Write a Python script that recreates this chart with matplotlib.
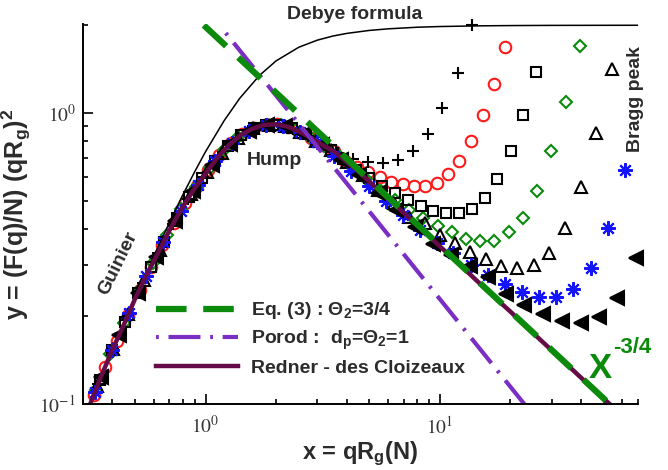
import numpy as np
import matplotlib
matplotlib.use('Agg')
import matplotlib.pyplot as plt
import matplotlib.ticker as ticker
from matplotlib.font_manager import FontProperties

# data (x = qRg, y = (F(q)/N)(qRg)^2)
plus_x = [0.347, 0.402, 0.466, 0.540, 0.626, 0.726, 0.841, 0.974, 1.129, 1.308, 1.516, 1.757, 2.035,
          2.359, 2.733, 3.17, 3.67, 4.25, 4.93, 5.71, 6.62, 7.67, 8.89, 10.2, 11.9, 13.7]
plus_y = [0.117, 0.155, 0.202, 0.261, 0.329, 0.415, 0.507, 0.601, 0.705, 0.796, 0.866, 0.907, 0.911,
          0.881, 0.832, 0.774, 0.73, 0.693, 0.677, 0.672, 0.688, 0.739, 0.845, 1.038, 1.369, 2.00]

circle_x = [0.334, 0.373, 0.417, 0.467, 0.523, 0.584, 0.654, 0.732, 0.819, 0.916, 1.025, 1.146, 1.282,
            1.435, 1.605, 1.796, 2.009, 2.247, 2.514, 2.812, 3.146, 3.521, 3.938, 4.406, 4.93, 5.55,
            6.18, 6.95, 7.75, 8.63, 9.71, 10.8, 12.05, 13.56, 15.26, 17.0, 18.94]
circle_y = [0.107, 0.134, 0.165, 0.202, 0.247, 0.296, 0.353, 0.420, 0.490, 0.561, 0.635, 0.715, 0.786,
            0.845, 0.885, 0.909, 0.914, 0.897, 0.862, 0.822, 0.777, 0.738, 0.684, 0.652, 0.626, 0.601,
            0.578, 0.569, 0.560, 0.560, 0.573, 0.616, 0.682, 0.799, 0.982, 1.255, 1.68]

square_x = [0.353, 0.400, 0.454, 0.515, 0.584, 0.663, 0.752, 0.853, 0.968, 1.098, 1.245, 1.413, 1.603,
            1.818, 2.063, 2.339, 2.654, 3.010, 3.415, 3.874, 4.395, 4.985, 5.65, 6.43, 7.30, 8.30,
            9.33, 10.6, 12.05, 13.7, 15.6, 17.5, 20.1, 22.6, 25.7]
square_y = [0.1205, 0.153, 0.192, 0.241, 0.296, 0.360, 0.437, 0.516, 0.597, 0.685, 0.769, 0.839, 0.885,
            0.910, 0.910, 0.884, 0.843, 0.794, 0.748, 0.692, 0.637, 0.596, 0.560, 0.530, 0.501, 0.478,
            0.459, 0.452, 0.452, 0.467, 0.509, 0.592, 0.739, 0.982, 1.38]

diamond_x = [0.341, 0.392, 0.451, 0.519, 0.596, 0.686, 0.789, 0.907, 1.044, 1.200, 1.380, 1.587, 1.826,
             2.100, 2.415, 2.777, 3.194, 3.674, 4.225, 4.860, 5.588, 6.43, 7.37, 8.46, 9.80, 11.25,
             12.9, 14.8, 17.0, 19.7, 22.6, 25.9, 29.8, 34.5, 39.6]
diamond_y = [0.112, 0.148, 0.190, 0.244, 0.305, 0.381, 0.467, 0.556, 0.648, 0.744, 0.826, 0.883, 0.910,
             0.907, 0.874, 0.826, 0.772, 0.718, 0.654, 0.593, 0.54, 0.501, 0.463, 0.435, 0.408, 0.389,
             0.368, 0.362, 0.362, 0.389, 0.435, 0.538, 0.739, 1.088, 1.695]

tri_x = [0.3455, 0.403, 0.469, 0.547, 0.638, 0.743, 0.866, 1.010, 1.177, 1.372, 1.599, 1.864, 2.172,
         2.532, 2.951, 3.440, 4.010, 4.674, 5.446, 6.348, 7.399, 8.62, 10.0, 11.6, 13.4, 15.7, 18.2,
         21.3, 25.2, 29.2, 34.2, 40.0, 46.3, 54.2]
tri_y = [0.115, 0.155, 0.204, 0.267, 0.339, 0.430, 0.526, 0.625, 0.731, 0.823, 0.885, 0.911, 0.902,
         0.859, 0.803, 0.746, 0.676, 0.61, 0.542, 0.49, 0.44, 0.418, 0.380, 0.357, 0.332, 0.314, 0.297,
         0.293, 0.300, 0.330, 0.402, 0.556, 0.852, 1.42]

star_x = [0.3375, 0.399, 0.472, 0.5585, 0.661, 0.782, 0.9245, 1.094, 1.294, 1.530, 1.810, 2.141, 2.533,
          2.996, 3.544, 4.193, 4.960, 5.866, 6.939, 8.209, 9.71, 11.4, 13.6, 16.0, 18.9, 22.4, 26.5,
          31.3, 36.9, 44.1, 52.1, 61.6]
star_y = [0.110, 0.153, 0.206, 0.276, 0.359, 0.461, 0.567, 0.682, 0.790, 0.869, 0.909, 0.904, 0.859,
          0.795, 0.71, 0.63, 0.56, 0.50, 0.445, 0.397, 0.357, 0.330, 0.300, 0.277, 0.258, 0.242, 0.2326,
          0.2326, 0.248, 0.293, 0.402, 0.636]

ltri_x = [0.3577, 0.4288, 0.5141, 0.6163, 0.7388, 0.8857, 1.0615, 1.2725, 1.525, 1.8285, 2.192, 2.628,
          3.150, 3.776, 4.526, 5.425, 6.503, 7.796, 9.346, 11.2, 13.4, 16.0, 19.1, 22.8, 27.5, 33.2,
          40.0, 47.7, 56.9, 68.6]
ltri_y = [0.124, 0.173, 0.240, 0.321, 0.426, 0.540, 0.660, 0.782, 0.868, 0.91, 0.903, 0.846, 0.777,
          0.69, 0.61, 0.53, 0.465, 0.405, 0.355, 0.325, 0.297, 0.2725, 0.238, 0.2184, 0.2034, 0.1924,
          0.1894, 0.1986, 0.231, 0.317]

debye_x = [0.30, 0.35, 0.40, 0.50, 0.60, 0.70, 0.80, 0.90, 1.0, 1.2, 1.4, 1.7, 2.0, 2.5, 3.0, 3.5,
           4.0, 5.0, 6.0, 8.0, 10, 15, 20, 30, 45, 70]
debye_y = [0.087, 0.118, 0.152, 0.230, 0.320, 0.419, 0.523, 0.629, 0.736, 0.940, 1.123, 1.346, 1.509,
           1.681, 1.778, 1.837, 1.875, 1.92, 1.944, 1.969, 1.98, 1.991, 1.995, 1.998, 1.999, 2.0]

redner_x = [0.316, 0.355, 0.398, 0.447, 0.501, 0.562, 0.631, 0.708, 0.794, 0.891, 1.0, 1.122, 1.259,
            1.413, 1.585, 1.778, 1.995, 2.239, 2.512, 2.818, 3.162, 3.548, 3.981, 4.467, 5.012, 5.623,
            6.31, 7.08, 7.94, 8.91, 10.0, 12.6, 15.8, 20.0, 25.1, 31.6, 39.8, 52.6]
redner_y = [0.0962, 0.122, 0.152, 0.1863, 0.2305, 0.2787, 0.333, 0.4007, 0.4718, 0.5446, 0.6186,
            0.7013, 0.7757, 0.839, 0.8824, 0.909, 0.914, 0.897, 0.862, 0.821, 0.775, 0.735, 0.68,
            0.631, 0.579, 0.532, 0.49, 0.45, 0.413, 0.379, 0.348, 0.293, 0.2466, 0.2075, 0.1746,
            0.147, 0.1236, 0.1005]

eq3_x = [0.983, 52.6]
eq3_y = [2.0, 0.1005]

porod_x = [1.22, 22.9]
porod_y = [1.88, 0.1]

GREEN = '#0b8a0b'
PURPLE = '#7a2ec4'
MAROON = '#650c48'
TXT = '#2b2b2b'

plt.rcParams['mathtext.fontset'] = 'stix'
plt.rcParams['mathtext.rm'] = 'Liberation Sans:bold'
plt.rcParams['mathtext.it'] = 'Liberation Sans:bold'
plt.rcParams['mathtext.bf'] = 'Liberation Sans:bold'
plt.rcParams['font.family'] = 'Liberation Sans'
plt.rcParams['lines.scale_dashes'] = False

fig = plt.figure(figsize=(6.68, 4.70), dpi=100)
ax = fig.add_axes([83/668, 66/470, 555/668, 380/470])

mk = dict(linestyle='none', clip_on=False, markeredgewidth=1.5)
ax.plot(circle_x, circle_y, marker='o', ms=8.3, mfc='none', mec='#ff1a1a', **mk)
ax.plot(diamond_x, diamond_y, marker='D', ms=6.4, mfc='none', mec='#0a8a0a', **mk)
ax.plot(plus_x, plus_y, marker='+', ms=9, color='black', **mk)
ax.plot(square_x, square_y, marker='s', ms=7.5, mfc='none', mec='black', **mk)
ax.plot(tri_x, tri_y, marker='^', ms=8.5, mfc='none', mec='black', **mk)
ax.plot(star_x, star_y, marker=(8, 2, 0), ms=10.5, color='#1414ff', **mk)
ax.plot(ltri_x, ltri_y, marker='<', ms=9.5, color='black', **mk)

ax.plot(debye_x, debye_y, color='black', lw=1.1)
l3, = ax.plot(redner_x, redner_y, color=MAROON, lw=3.2, label='Redner - des Cloizeaux')
l2, = ax.plot(porod_x, porod_y, color=PURPLE, lw=3.0, dashes=(2, 7, 23, 7),
              label=r'Porod :  d$_p$=$\Theta_2$=1')
l1, = ax.plot(eq3_x, eq3_y, color=GREEN, lw=4.5, dashes=(22, 12),
              label=r'Eq. (3) : $\Theta_2$=3/4')

ax.set_xscale('log')
ax.set_yscale('log')
ax.set_xlim(0.3, 70)
ax.set_ylim(0.1, 2.02)

ax.spines['top'].set_visible(False)
ax.spines['right'].set_visible(False)
ax.spines['left'].set_linewidth(1.4)
ax.spines['bottom'].set_linewidth(1.4)

ax.xaxis.set_major_locator(ticker.FixedLocator([1, 10]))
ax.yaxis.set_major_locator(ticker.FixedLocator([0.1, 1]))
ax.xaxis.set_minor_locator(ticker.LogLocator(base=10, subs=np.arange(2, 10)))
ax.yaxis.set_minor_locator(ticker.LogLocator(base=10, subs=np.arange(2, 10)))
fmt = ticker.FuncFormatter(lambda v, p: r'$10^{%d}$' % int(round(np.log10(v))))
ax.xaxis.set_major_formatter(fmt)
ax.yaxis.set_major_formatter(fmt)
ax.xaxis.set_minor_formatter(ticker.NullFormatter())
ax.yaxis.set_minor_formatter(ticker.NullFormatter())
ax.tick_params(which='both', direction='in', top=False, right=False, width=1.2,
               labelsize=14, labelcolor='#333333')
ax.tick_params(which='major', length=7)
ax.tick_params(which='minor', length=3.5)
ax.tick_params(axis='x', pad=8)
ax.tick_params(axis='y', pad=5)

ax.set_xlabel(r'x = qR$_g$(N)', fontsize=17, fontweight='bold', color=TXT,
              math_fontfamily='custom', labelpad=2)
ax.set_ylabel(r'y = (F(q)/N) (qR$_g$)$^2$', fontsize=18, fontweight='bold', color=TXT,
              math_fontfamily='custom', labelpad=5)

txt = dict(fontsize=14, fontweight='bold', color=TXT, ha='center', va='center')
ax.text(4.34, 2.17, 'Debye formula', **txt)
ax.text(1.96, 0.687, 'Hump', **txt)
ax.text(0.425, 0.305, 'Guinier', rotation=64, **txt)
ax.text(68.6, 1.12, 'Bragg peak', rotation=90, **txt)
ax.text(48.2, 0.1324, 'X', fontsize=25, fontweight='bold', color=GREEN, ha='center', va='center')
ax.text(66.0, 0.1567, '-3/4', fontsize=16, fontweight='bold', color=GREEN, ha='center', va='center')

fp = FontProperties(family='Liberation Sans', weight='bold', size=14, math_fontfamily='custom')
ax.legend(handles=[l1, l2, l3], prop=fp, frameon=False, loc='center left',
          bbox_to_anchor=(0.1315, 0.172), borderaxespad=0, borderpad=0,
          handlelength=4.2, handletextpad=0.7, labelspacing=0.38, labelcolor=TXT)

fig.savefig('out.png', dpi=100)
